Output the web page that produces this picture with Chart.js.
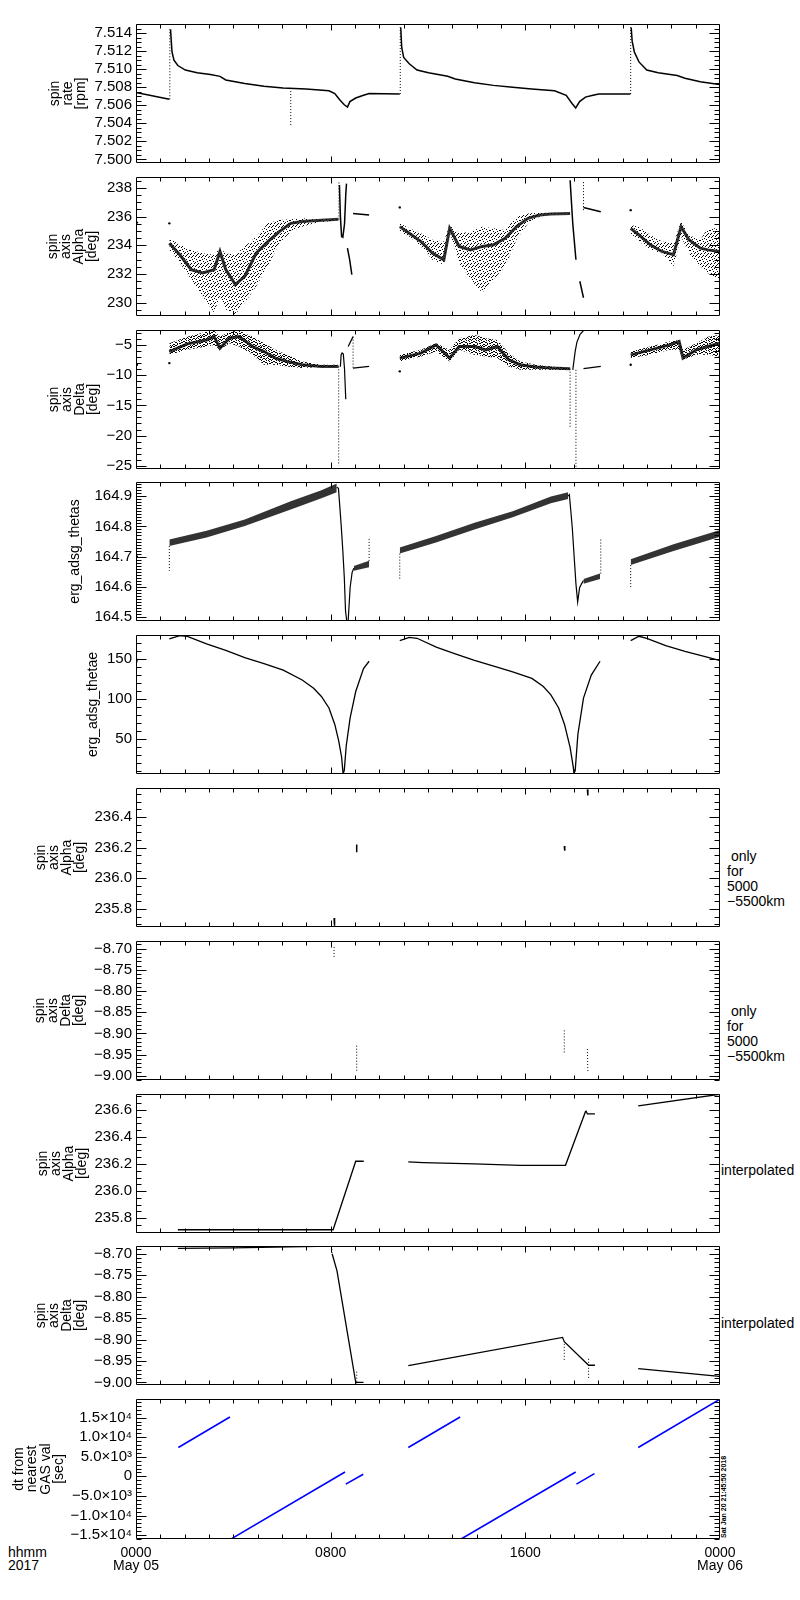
<!DOCTYPE html>
<html><head><meta charset="utf-8">
<script src="https://cdn.jsdelivr.net/npm/chart.js@4"></script>
<style>
body{margin:0;background:#fff;width:800px;height:1600px;position:relative;overflow:hidden;font-family:"Liberation Sans",Arial,sans-serif;}
canvas{position:absolute;left:0;}
.t{position:absolute;font-size:14px;color:#000;white-space:pre;font-family:"Liberation Sans",Arial,sans-serif;}
</style></head><body>
<div class="t" style="left:727px;top:849px;line-height:15px;"> only
for
5000
−5500km</div>
<div class="t" style="left:727px;top:1004px;line-height:15px;"> only
for
5000
−5500km</div>
<div class="t" style="left:721px;top:1163px;line-height:15px;">interpolated</div>
<div class="t" style="left:721px;top:1316px;line-height:15px;">interpolated</div>
<div class="t" style="left:8px;top:1546px;line-height:12.5px;">hhmm
2017</div>
<div style="position:absolute;left:720px;top:1450px;width:9px;height:88px;writing-mode:vertical-rl;transform:rotate(180deg);font:bold 7px 'Liberation Sans',Arial,sans-serif;white-space:nowrap;color:#000;">Sat Jan 20 21:45:50 2018</div>
<script>
// ---------------- DATA (hours since 0000 May 05) ----------------
const xTickHours = [0, 8, 16, 24];
const xTickLabels = [['0000','May 05'], ['0800'], ['1600'], ['0000','May 06']];

// Panel 1: spin rate [rpm]
const p1Ticks = [7.500,7.502,7.504,7.506,7.508,7.510,7.512,7.514];
const p1LineH = [0.00,1.37, 1.37, 1.42,1.44,1.48,1.56,1.72,2.03,2.51,3.06,3.45,3.69,4.47,5.26,6.04,6.99,7.93,8.17,8.37,8.56,8.69,8.79,9.03,9.35,9.58,10.84, 10.84, 10.88,10.92,11.0,11.23,11.55,12.02,12.81,13.12,13.91,14.69,15.48,16.26,17.2,17.68,17.92,18.07,18.23,18.47,18.78,19.02,20.32, 20.32, 20.35,20.39,20.48,20.67,20.99,21.46,22.24,22.56,23.19,23.97,24.0];
const p1LineV = [7.5074,7.50666, null, 7.5144,7.5135,7.5119,7.5110,7.5104,7.5099,7.5096,7.5094,7.5092,7.5088,7.5084,7.5081,7.5079,7.5078,7.5076,7.5073,7.5066,7.50605,7.5058,7.5064,7.5068,7.5071,7.5073,7.50725, null, 7.5146,7.5124,7.5113,7.5106,7.5099,7.5096,7.5092,7.5089,7.5085,7.5082,7.5080,7.5078,7.5076,7.5071,7.5062,7.5057,7.5064,7.5069,7.5071,7.50725,7.50725, null, 7.5146,7.5131,7.5119,7.5108,7.5099,7.5096,7.5093,7.5090,7.5086,7.5083,7.5083];
const p1DotH = [1.39,1.39, 1.39, 6.36,6.36, 6.36, 10.86,10.86, 10.86, 20.33,20.33];
const p1DotV = [7.50666,7.5146, null, 7.5079,7.5038, null, 7.50725,7.5148, null, 7.50725,7.5148];

// Panel 2: spin axis Alpha [deg]
const p2Ticks = [230,232,234,236,238];
const p2A_h = [1.37,1.80,2.27,2.74,3.21,3.45,3.69,4.08,4.47,4.94,5.42,5.89,6.36,6.83,7.30,7.78,8.32];
const p2A_hi = [234.49,234.03,233.68,233.45,233.34,233.80,233.45,233.34,233.92,234.61,235.53,235.76,235.81,235.88,235.81,235.81,235.81];
const p2A_lo = [233.68,232.76,231.61,230.45,229.30,230.45,229.53,229.19,229.99,231.15,232.53,234.15,234.95,235.30,235.53,235.65,235.71];
const p2A_core = [234.15,233.34,232.30,232.07,232.30,233.57,232.30,231.26,231.84,233.45,234.26,234.95,235.53,235.65,235.71,235.76,235.81];
const p2B_h = [10.84,11.23,11.71,12.18,12.65,12.89,13.28,13.75,14.23,14.69,15.17,15.64,16.11,16.58,17.05,17.84];
const p2B_hi = [235.53,235.18,234.84,234.38,234.26,235.41,234.84,234.95,235.30,235.18,235.07,235.99,236.22,236.27,236.27,236.27];
const p2B_lo = [234.95,234.61,233.92,232.99,232.65,234.95,232.76,231.61,230.69,231.61,232.53,234.38,235.53,235.99,236.18,236.22];
const p2B_core = [235.30,234.84,234.26,233.45,232.99,235.18,233.92,233.68,233.92,234.03,234.49,235.30,235.88,236.11,236.18,236.22];
const p2C_h = [20.33,20.67,21.14,21.61,22.09,22.40,22.72,23.19,23.50,23.97];
const p2C_hi = [235.41,235.30,234.72,234.26,234.15,235.65,234.72,234.38,235.18,235.18];
const p2C_lo = [234.84,234.26,233.68,233.45,232.53,234.61,233.45,232.53,232.07,231.61];
const p2C_core = [235.18,234.72,234.03,233.57,233.34,235.30,234.38,233.80,233.68,233.57];
const p2LineH = [8.36,8.40,8.45,8.50,8.57,8.62,8.65, 8.65, 8.69,8.78,8.87, 8.87, 8.92,9.58, 9.58, 17.84,17.95,18.08, 18.08, 18.24,18.39, 18.39, 18.39,19.10];
const p2LineV = [238.2,236.0,234.6,234.55,235.5,237.5,238.3, null, 233.8,233.0,231.95, null, 236.22,236.11, null, 238.53,235.5,232.99, null, 231.49,230.34, null, 236.64,236.34];
const p2DotH = [8.34,8.34, 8.34, 18.39,18.39];
const p2DotV = [235.8,238.4, null, 236.45,238.53];
const p2PtH = [0.04,1.37,10.84,20.33];
const p2PtV = [235.58,235.53,236.64,236.45];

// Panel 3: spin axis Delta [deg]
const p3Ticks = [-25,-20,-15,-10,-5];
const p3A_h = [1.37,2.11,2.90,3.21,3.45,3.84,4.24,4.79,5.26,5.73,6.20,6.83,7.62,8.32];
const p3A_hi = [-4.70,-3.60,-2.77,-2.61,-3.60,-2.77,-2.61,-3.60,-4.70,-5.79,-6.62,-7.71,-8.26,-8.26];
const p3A_lo = [-6.62,-5.79,-5.24,-4.97,-5.79,-4.70,-5.24,-6.62,-8.26,-8.26,-8.54,-8.81,-8.65,-8.54];
const p3A_core = [-6.07,-4.80,-4.15,-3.60,-5.52,-3.87,-3.60,-5.24,-6.07,-7.16,-7.71,-8.26,-8.54,-8.54];
const p3B_h = [10.84,11.71,12.33,12.89,13.28,13.91,14.38,14.85,15.32,15.79,16.42,17.05,17.84];
const p3B_hi = [-6.62,-5.79,-4.70,-5.79,-3.87,-3.32,-3.87,-4.15,-6.34,-7.71,-8.26,-8.54,-8.81];
const p3B_lo = [-7.71,-6.89,-6.07,-7.71,-5.79,-6.62,-6.89,-7.16,-8.54,-9.09,-9.09,-9.09,-9.09];
const p3B_core = [-7.16,-6.34,-4.97,-7.16,-5.24,-5.24,-5.79,-5.24,-7.44,-8.26,-8.65,-8.81,-8.92];
const p3C_h = [20.33,21.14,21.93,22.32,22.48,23.03,23.50,23.97];
const p3C_hi = [-6.07,-5.24,-4.42,-4.15,-5.79,-4.70,-3.60,-3.32];
const p3C_lo = [-7.16,-6.62,-5.79,-5.79,-7.44,-6.62,-6.62,-6.89];
const p3C_core = [-6.62,-5.79,-4.97,-4.42,-7.16,-5.79,-5.24,-4.70];
const p3LineH = [8.40,8.43,8.47,8.52,8.57,8.62, 8.62, 8.72,8.92, 8.92, 8.92,9.58, 9.58, 17.95,18.05,18.12,18.25,18.39, 18.39, 18.39,19.10];
const p3LineV = [-8.6,-6.6,-6.3,-6.5,-9.0,-14.0, null, -5.24,-3.60, null, -8.81,-8.54, null, -9.1,-6.0,-4.5,-3.2,-2.6, null, -8.92,-8.54];
const p3DotH = [8.33,8.33, 8.33, 8.92,8.92, 8.92, 17.84,17.84, 17.84, 18.08,18.08];
const p3DotV = [-8.54,-25.0, null, -3.6,-9.1, null, -8.92,-18.7, null, -9.1,-25.5];
const p3PtH = [0.04,1.37,10.84,20.33];
const p3PtV = [-8.26,-7.99,-9.36,-8.26];

// Panel 4: erg_adsg_thetas
const p4Ticks = [164.5,164.6,164.7,164.8,164.9];
const p4A_h = [1.37,2.90,4.47,6.36,7.62,8.25];
const p4A_lo = [164.735,164.763,164.801,164.856,164.893,164.913];
const p4A_hi = [164.757,164.786,164.823,164.883,164.920,164.942];
const p4A2_h = [8.95,9.58];
const p4A2_lo = [164.653,164.665];
const p4A2_hi = [164.669,164.686];
const p4B_h = [10.84,12.33,13.91,15.48,17.05,17.76];
const p4B_lo = [164.710,164.747,164.790,164.830,164.877,164.891];
const p4B_hi = [164.730,164.768,164.812,164.850,164.899,164.913];
const p4B2_h = [18.39,19.07];
const p4B2_lo = [164.610,164.626];
const p4B2_hi = [164.626,164.644];
const p4C_h = [20.33,22.09,23.97];
const p4C_lo = [164.672,164.719,164.765];
const p4C_hi = [164.691,164.741,164.787];
const p4LineH = [8.25,8.32,8.37,8.43,8.50,8.56,8.61,8.66,8.72,8.80,8.88,8.95, 8.95, 17.76,17.81,17.87,17.93,18.0,18.08,18.15,18.23,18.31,18.39];
const p4LineV = [164.93,164.926,164.872,164.806,164.719,164.632,164.521,164.488,164.488,164.598,164.647,164.662, null, 164.90,164.905,164.850,164.795,164.708,164.610,164.550,164.597,164.610,164.621];
const p4DotH = [1.37,1.37, 1.37, 9.58,9.58, 9.58, 10.84,10.84, 10.84, 19.1,19.1, 19.1, 20.33,20.33];
const p4DotV = [164.735,164.653, null, 164.686,164.763, null, 164.710,164.621, null, 164.644,164.757, null, 164.672,164.597];
const p4PtH = [0.04];
const p4PtV = [164.70];

// Panel 5: erg_adsg_thetae
const p5Ticks = [50,100,150];
const p5H = [0.0,0.06, 0.06, 1.37,1.80,2.11,2.90,3.69,4.47,5.26,6.05,6.83,7.30,7.62,7.93,8.17,8.33,8.45,8.51,8.56,8.64,8.80,9.03,9.35,9.58, 9.58, 10.84,11.23,11.55,12.34,13.12,13.91,14.70,15.48,16.27,16.74,17.05,17.37,17.61,17.84,17.97,18.0,18.05,18.16,18.39,18.71,19.07, 19.07, 20.33,20.67,20.99,21.77,22.56,23.35,23.97];
const p5V = [143,150, null, 175.1,179.2,178.4,168.9,160.7,151.6,144.2,136.0,123.6,113.3,103.0,88.6,68.0,47.5,26.9,6.3,10.4,41.3,76.3,109.2,138.0,147.1, null, 173.0,177.1,175.9,164.8,156.5,148.3,140.9,133.9,125.7,115.4,105.1,88.6,68.0,39.2,14.5,6.3,10.4,55.7,101.0,129.8,147.1, null, 173.0,178.4,175.9,166.8,159.4,153.2,148.3];

// Panel 6: spin axis Alpha, only for 5000-5500 km
const p6Ticks = [235.8,236.0,236.2,236.4];
const p6H = [8.14,8.16, 8.16, 9.07,9.07, 9.07, 17.6,17.62, 17.62, 18.55,18.57];
const p6V = [235.74,235.69, null, 236.22,236.17, null, 236.21,236.18, null, 236.58,236.54];

// Panel 7: spin axis Delta, only for 5000-5500 km
const p7Ticks = [-9.00,-8.95,-8.90,-8.85,-8.80,-8.75,-8.70];
const p7H = [8.14,8.14, 8.14, 9.07,9.07, 9.07, 17.6,17.6, 17.6, 18.55,18.57];
const p7V = [-8.696,-8.722, null, -8.929,-8.99, null, -8.893,-8.947, null, -8.937,-8.99];

// Panel 8: spin axis Alpha, interpolated
const p8Ticks = [235.8,236.0,236.2,236.4,236.6];
const p8H = [1.72,8.10,9.03,9.36, 9.36, 11.19,11.8,13.9,15.8,17.65,18.47,18.50,18.55,18.86, 18.86, 20.64,23.98];
const p8V = [235.714,235.714,236.22,236.22, null, 236.215,236.21,236.20,236.19,236.19,236.586,236.59,236.57,236.57, null, 236.63,236.715];

// Panel 9: spin axis Delta, interpolated
const p9Ticks = [-9.00,-8.95,-8.90,-8.85,-8.80,-8.75,-8.70];
const p9H = [1.72,4.0,6.3,8.04, 8.04, 8.06,8.26,9.03,9.35, 9.35, 11.19,17.53,17.6,18.6,18.86, 18.86, 20.64,23.98];
const p9V = [-8.6875,-8.6865,-8.684,-8.682, null, -8.70,-8.74,-9.0,-9.0, null, -8.961,-8.895,-8.905,-8.96,-8.96, null, -8.968,-8.986];
const p9DotH = [8.05,8.05, 8.05, 9.07,9.07, 9.07, 17.6,17.6, 17.6, 18.6,18.6];
const p9DotV = [-8.682,-8.70, null, -8.975,-9.005, null, -8.91,-8.95, null, -8.945,-8.99];

// Panel 10: dt from nearest GAS val [sec]
const p10Ticks = [-15000,-10000,-5000,0,5000,10000,15000];
const p10TickLabels = ['−1.5×10⁴','−1.0×10⁴','−5.0×10³','0','5.0×10³','1.0×10⁴','1.5×10⁴'];
const p10H = [1.74,3.86, 3.86, 3.93,8.59, 8.59, 8.62,9.34, 9.34, 11.19,13.32, 13.32, 13.36,18.07, 18.07, 18.10,18.84, 18.84, 20.64,23.97];
const p10V = [7350,15150, null, -15900,1120, null, -2000,540, null, 7350,15150, null, -16000,1120, null, -2000,700, null, 7350,19600];

// ---------------- RENDERING ----------------
const FONT = '"Liberation Sans", Arial, sans-serif';
const TOP0 = 23, PITCH = 152.8, PH = 141, PAD = 12;
const minus = s => s.replace('-', '−');
const fixedFmt = d => v => minus(Number(v).toFixed(d));

// stipple fills imitating the scattered-dot clouds (fixed tile, style only)
const STIPPLE_SPARSE = [[0,0],[3,1],[7,0],[5,2],[1,3],[8,3],[4,4],[6,5],[0,6],[2,5],[9,6],[3,7],[7,7],[5,8],[1,9],[8,9],[4,9],[6,1],[2,2],[9,2]];
const STIPPLE_DENSE = STIPPLE_SPARSE.concat([[1,0],[4,1],[8,1],[0,2],[6,3],[3,4],[9,4],[1,5],[5,5],[7,6],[4,7],[0,8],[6,8],[2,8],[9,9],[3,9]]);
function stipple(list) {
  const c = document.createElement('canvas');
  c.width = 10; c.height = 10;
  const g = c.getContext('2d');
  g.fillStyle = '#000';
  list.forEach(p => g.fillRect(p[0], p[1], 1, 1));
  return g.createPattern(c, 'repeat');
}

const pts = (h, v) => h.map((x, i) => ({x: x, y: v[i]}));
function line(h, v, w = 1, dash = [], color = '#000') {
  return {data: pts(h, v), borderColor: color, borderWidth: w, borderDash: dash, pointRadius: 0, fill: false, tension: 0, spanGaps: false};
}
function band(h, lo, hi, fillStyle) {
  return [
    {data: pts(h, lo), borderColor: 'rgba(0,0,0,0)', borderWidth: 1, pointRadius: 0, fill: false, tension: 0},
    {data: pts(h, hi), borderColor: 'rgba(0,0,0,0)', borderWidth: 1, pointRadius: 0, fill: '-1', backgroundColor: fillStyle, tension: 0}
  ];
}
function dots(h, v, r = 1.2) {
  return {data: pts(h, v), showLine: false, pointRadius: r, pointBackgroundColor: '#000', pointBorderWidth: 0, borderColor: '#000'};
}

const framePlugin = {
  id: 'frame',
  afterDraw(chart, args, opts) {
    const {ctx, chartArea: a} = chart;
    const ys = chart.scales.y, xs = chart.scales.x;
    const L = Math.round(a.left) + 0.5, R = Math.round(a.right) - 0.5, T = Math.round(a.top) + 0.5, B = Math.round(a.bottom) - 0.5;
    ctx.save();
    ctx.strokeStyle = '#000';
    ctx.lineWidth = 1;
    ctx.beginPath();
    ctx.rect(L, T, R - L, B - T);
    ys.ticks.forEach(t => {
      const y = Math.round(ys.getPixelForValue(t.value)) + 0.5;
      ctx.moveTo(L, y); ctx.lineTo(L + 10, y);
      ctx.moveTo(R, y); ctx.lineTo(R - 10, y);
    });
    const st = opts.minor;
    for (let k = Math.ceil(ys.min / st - 1e-6); k * st <= ys.max + 1e-9; k++) {
      const y = Math.round(ys.getPixelForValue(k * st)) + 0.5;
      ctx.moveTo(L, y); ctx.lineTo(L + 5, y);
      ctx.moveTo(R, y); ctx.lineTo(R - 5, y);
    }
    for (let hr = 1; hr < 24; hr++) {
      const x = Math.round(xs.getPixelForValue(hr)) + 0.5;
      const len = (hr % 8 === 0) ? 6 : 4;
      ctx.moveTo(x, T); ctx.lineTo(x, T + len);
      ctx.moveTo(x, B); ctx.lineTo(x, B - len);
    }
    ctx.stroke();
    ctx.restore();
  }
};

function makeChart(i, datasets, y, isLast) {
  const last = !!isLast;
  const top = Math.round(TOP0 + PITCH * i);
  const h = PAD + PH + PAD + (last ? 38 : 0);
  const cv = document.createElement('canvas');
  cv.width = 800; cv.height = h;
  cv.style.top = (top - PAD) + 'px';
  cv.style.width = '800px'; cv.style.height = h + 'px';
  document.body.appendChild(cv);
  new Chart(cv, {
    type: 'line',
    data: {datasets: datasets},
    options: {
      responsive: false, animation: false, events: [],
      layout: {padding: {left: 0, right: 80, top: PAD, bottom: PAD}},
      plugins: {legend: {display: false}, tooltip: {enabled: false}, frame: {minor: y.minor}},
      scales: {
        x: {
          type: 'linear', min: 0, max: 24, display: last,
          afterFit(s) { s.height = last ? 38 : 0; },
          afterBuildTicks(s) { s.ticks = xTickHours.map(v => ({value: v})); },
          ticks: {autoSkip: false, maxRotation: 0, padding: 8, color: '#000', font: {family: FONT, size: 14, lineHeight: 0.9},
                  callback: (v, idx) => xTickLabels[idx]},
          grid: {display: false, drawTicks: false}, border: {display: false}
        },
        y: {
          type: 'linear', min: y.min, max: y.max,
          afterFit(s) { s.width = 136; },
          afterBuildTicks(s) { s.ticks = y.ticks.map(v => ({value: v})); },
          ticks: {autoSkip: false, padding: 4, color: '#000', font: {family: FONT, size: 15}, callback: y.fmt},
          grid: {display: false, drawTicks: false}, border: {display: false},
          title: {display: true, text: y.title, color: '#000', font: {family: FONT, size: 14, lineHeight: 0.95},
                  padding: {top: y.tpad, bottom: 0}}
        }
      }
    },
    plugins: [framePlugin]
  });
}

const sparse = stipple(STIPPLE_SPARSE);
const dense = stipple(STIPPLE_DENSE);

// Panel 1
makeChart(0, [line(p1LineH, p1LineV, 1.5), line(p1DotH, p1DotV, 1, [1, 2])],
  {min: 7.4996, max: 7.5150, ticks: p1Ticks, minor: 0.0005, fmt: fixedFmt(3), title: ['spin', 'rate', '[rpm]'], tpad: 48});

// Panel 2
makeChart(1, [
  ...band(p2A_h, p2A_lo, p2A_hi, sparse), line(p2A_h, p2A_core, 3, [], 'rgba(0,0,0,0.8)'),
  ...band(p2B_h, p2B_lo, p2B_hi, sparse), line(p2B_h, p2B_core, 3, [], 'rgba(0,0,0,0.8)'),
  ...band(p2C_h, p2C_lo, p2C_hi, sparse), line(p2C_h, p2C_core, 3, [], 'rgba(0,0,0,0.8)'),
  line(p2LineH, p2LineV, 1.5), line(p2DotH, p2DotV, 1, [1, 2]), dots(p2PtH, p2PtV)
], {min: 229.07, max: 238.76, ticks: p2Ticks, minor: 0.5, fmt: fixedFmt(0), title: ['spin', 'axis', 'Alpha', '[deg]'], tpad: 46});

// Panel 3
makeChart(2, [
  ...band(p3A_h, p3A_lo, p3A_hi, dense), line(p3A_h, p3A_core, 3, [], 'rgba(0,0,0,0.8)'),
  ...band(p3B_h, p3B_lo, p3B_hi, dense), line(p3B_h, p3B_core, 3, [], 'rgba(0,0,0,0.8)'),
  ...band(p3C_h, p3C_lo, p3C_hi, dense), line(p3C_h, p3C_core, 3, [], 'rgba(0,0,0,0.8)'),
  line(p3LineH, p3LineV, 1.2), line(p3DotH, p3DotV, 1, [1, 2]), dots(p3PtH, p3PtV)
], {min: -25.55, max: -2.5, ticks: p3Ticks, minor: 1, fmt: fixedFmt(0), title: ['spin', 'axis', 'Delta', '[deg]'], tpad: 47});

// Panel 4
makeChart(3, [
  ...band(p4A_h, p4A_lo, p4A_hi, 'rgba(0,0,0,0.8)'), ...band(p4A2_h, p4A2_lo, p4A2_hi, 'rgba(0,0,0,0.8)'),
  ...band(p4B_h, p4B_lo, p4B_hi, 'rgba(0,0,0,0.8)'), ...band(p4B2_h, p4B2_lo, p4B2_hi, 'rgba(0,0,0,0.8)'),
  ...band(p4C_h, p4C_lo, p4C_hi, 'rgba(0,0,0,0.8)'),
  line(p4LineH, p4LineV, 1.2), line(p4DotH, p4DotV, 1, [1, 2]), dots(p4PtH, p4PtV)
], {min: 164.487, max: 164.947, ticks: p4Ticks, minor: 0.01, fmt: fixedFmt(1), title: 'erg_adsg_thetas', tpad: 68.5});

// Panel 5
makeChart(4, [line(p5H, p5V, 1.3)],
  {min: 5.9, max: 180, ticks: p5Ticks, minor: 10, fmt: fixedFmt(0), title: 'erg_adsg_thetae', tpad: 86.5});

// Panel 6
makeChart(5, [line(p6H, p6V, 1.5)],
  {min: 235.682, max: 236.589, ticks: p6Ticks, minor: 0.05, fmt: fixedFmt(1), title: ['spin', 'axis', 'Alpha', '[deg]'], tpad: 34});

// Panel 7
makeChart(6, [line(p7H, p7V, 1, [1, 2])],
  {min: -9.01, max: -8.682, ticks: p7Ticks, minor: 0.01, fmt: fixedFmt(2), title: ['spin', 'axis', 'Delta', '[deg]'], tpad: 33});

// Panel 8
makeChart(7, [line(p8H, p8V, 1.3)],
  {min: 235.69, max: 236.717, ticks: p8Ticks, minor: 0.05, fmt: fixedFmt(1), title: ['spin', 'axis', 'Alpha', '[deg]'], tpad: 36});

// Panel 9
makeChart(8, [line(p9H, p9V, 1.3), line(p9DotH, p9DotV, 1, [1, 2])],
  {min: -9.006, max: -8.682, ticks: p9Ticks, minor: 0.01, fmt: fixedFmt(2), title: ['spin', 'axis', 'Delta', '[deg]'], tpad: 34});

// Panel 10
makeChart(9, [line(p10H, p10V, 1.6, [], '#0000ff')],
  {min: -16000, max: 19750, ticks: p10Ticks, minor: 1000, fmt: (v, i) => p10TickLabels[i], title: ['dt from', 'nearest', 'GAS val', '[sec]'], tpad: 12.5}, true);
</script>
</body></html>
